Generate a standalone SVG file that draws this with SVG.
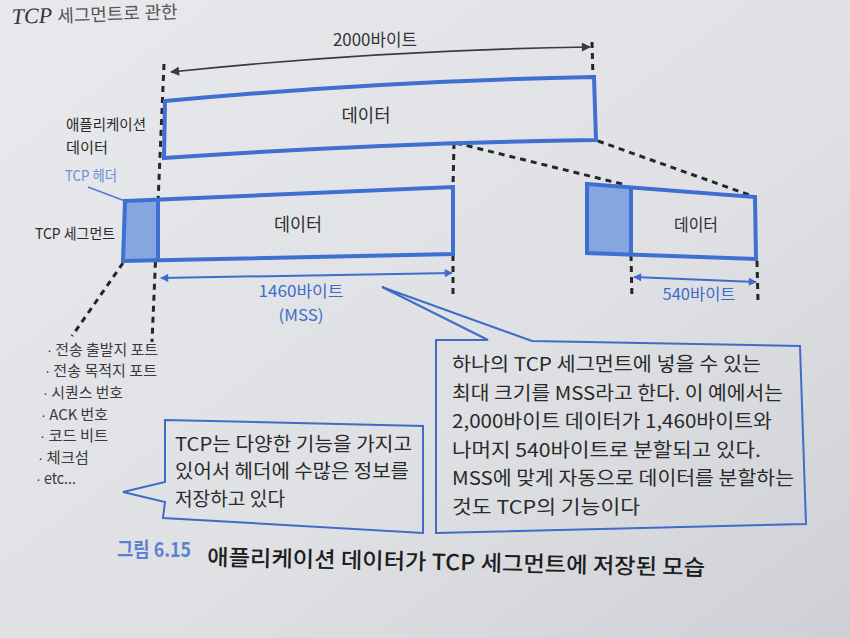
<svg xmlns="http://www.w3.org/2000/svg" width="850" height="638" viewBox="0 0 850 638">
<defs>
  <linearGradient id="paper" x1="0" y1="0" x2="1" y2="1">
    <stop offset="0" stop-color="#e8e9ec"/>
    <stop offset="0.6" stop-color="#dfe0e4"/>
    <stop offset="1" stop-color="#cfd0d5"/>
  </linearGradient>
  <marker id="arrBlue" viewBox="0 0 10 10" refX="9" refY="5" markerWidth="10" markerHeight="8" markerUnits="userSpaceOnUse" orient="auto-start-reverse">
    <path d="M0,0 L10,5 L0,10 Z" fill="#3d6ccc"/>
  </marker>
  <marker id="arrDark" viewBox="0 0 10 10" refX="9" refY="5" markerWidth="12" markerHeight="9" markerUnits="userSpaceOnUse" orient="auto-start-reverse">
    <path d="M0,0 L10,5 L0,10 Z" fill="#3a3a3a"/>
  </marker>
</defs>
<style>
  text { font-family: "Noto Sans CJK KR", "Noto Sans", sans-serif; }
  .box { fill: none; stroke: #3f6fd0; stroke-width: 4; stroke-linejoin: miter; }
  .hdr { fill: #86a6e0; stroke: none; }
  .dash { fill: none; stroke: #262626; stroke-width: 3; stroke-dasharray: 6 5; }
  .blue { fill: none; stroke: #3d6ccc; stroke-width: 2; }
  .dark { fill: none; stroke: #3a3a3a; stroke-width: 1.6; }
  .call { fill: none; stroke: #3f6cc8; stroke-width: 2; stroke-linejoin: miter; }
  .lbl { font-size: 15px; fill: #2a2a2a; }
  .data { font-size: 18px; fill: #2e2e2e; text-anchor: middle; }
  .bl { font-size: 16px; fill: #3f6cc8; text-anchor: middle; }
  .li { font-size: 15px; fill: #3a3a3a; }
  .dot { font-family: "Liberation Sans", sans-serif; }
  .ct { font-size: 19px; fill: #2a2a2a; }
</style>

<rect x="0" y="0" width="850" height="638" fill="url(#paper)"/>

<text x="12" y="24" transform="rotate(-2 12 24)" style="font-family:'Liberation Serif','Noto Sans CJK KR',serif;font-size:22px;font-style:italic;fill:#333">TCP <tspan style="font-style:normal;font-size:18px;fill:#555">세그먼트로 관한</tspan></text>

<g id="connectors">
  <path class="dash" d="M164,64 L152,342"/>
  <path class="dash" d="M592,42 L593,78"/>
  <path class="dash" d="M454,143 L453,187"/>
  <path class="dash" d="M453,255 L453,297"/>
  <path class="dash" d="M456,143 L626,185"/>
  <path class="dash" d="M598,141 L755,197"/>
  <path class="dash" d="M631,255 L632,299"/>
  <path class="dash" d="M757,261 L758,301"/>
  <path class="dash" d="M123,263 L72,336"/>
  <path d="M88,187 L125,201" stroke="#4f7bd0" stroke-width="1.5" fill="none"/>
  <path class="dark" d="M171,72 Q380,50 590,47" marker-start="url(#arrDark)" marker-end="url(#arrDark)"/>
  <path class="blue" d="M161,278 L452,273" marker-start="url(#arrBlue)" marker-end="url(#arrBlue)"/>
  <path class="blue" d="M634,277 L756,282" marker-start="url(#arrBlue)" marker-end="url(#arrBlue)"/>
</g>

<g id="label-2000">
  <text x="375" y="46" class="data" style="font-size:17px;fill:#333" textLength="84" lengthAdjust="spacingAndGlyphs">2000바이트</text>
</g>

<g id="app-data">
  <path class="box" d="M165,101 Q380,81 594,77 L596,140 Q380,143 164,158 Z"/>
  <text x="366" y="122" class="data" textLength="49" lengthAdjust="spacingAndGlyphs">데이터</text>
</g>
<g id="app-data-label">
  <text x="66" y="130" class="lbl" textLength="80" lengthAdjust="spacingAndGlyphs">애플리케이션</text>
  <text x="66" y="153" class="lbl" textLength="42" lengthAdjust="spacingAndGlyphs">데이터</text>
</g>

<g id="tcp-header-label">
  <text x="65" y="181" class="lbl" style="fill:#6a90d8" textLength="52" lengthAdjust="spacingAndGlyphs">TCP 헤더</text>
</g>
<g id="tcp-segment-label">
  <text x="35" y="239" class="lbl" textLength="80" lengthAdjust="spacingAndGlyphs">TCP 세그먼트</text>
</g>

<g id="segment-1">
  <path class="hdr" d="M125,201 L158,200 L158,260 L123,261 Z"/>
  <path class="box" d="M125,201 L453,187 L453,254 L123,261 Z"/>
  <path class="box" d="M158,200 L158,260"/>
  <text x="298" y="231" class="data" textLength="48" lengthAdjust="spacingAndGlyphs">데이터</text>
</g>

<g id="segment-2">
  <path class="hdr" d="M587,184 L631,186 L631,254 L587,253 Z"/>
  <path class="box" d="M587,184 L755,197 L756,259 L587,253 Z"/>
  <path class="box" d="M631,186 L631,255"/>
  <text x="696" y="231" class="data" style="font-size:17px" textLength="44" lengthAdjust="spacingAndGlyphs">데이터</text>
</g>

<g id="label-1460">
  <text x="301" y="297" class="bl" textLength="85" lengthAdjust="spacingAndGlyphs">1460바이트</text>
  <text x="301" y="321" class="bl" textLength="45" lengthAdjust="spacingAndGlyphs">(MSS)</text>
</g>
<g id="label-540">
  <text x="699" y="300" class="bl" textLength="73" lengthAdjust="spacingAndGlyphs">540바이트</text>
</g>

<g id="header-fields">
  <text x="47" y="355" class="li" textLength="111" lengthAdjust="spacingAndGlyphs"><tspan class="dot">·</tspan> 전송 출발지 포트</text>
  <text x="45" y="376" class="li" textLength="112" lengthAdjust="spacingAndGlyphs"><tspan class="dot">·</tspan> 전송 목적지 포트</text>
  <text x="43" y="398" class="li" textLength="80" lengthAdjust="spacingAndGlyphs"><tspan class="dot">·</tspan> 시퀀스 번호</text>
  <text x="41" y="420" class="li" textLength="67" lengthAdjust="spacingAndGlyphs"><tspan class="dot">·</tspan> ACK 번호</text>
  <text x="40" y="441" class="li" textLength="68" lengthAdjust="spacingAndGlyphs"><tspan class="dot">·</tspan> 코드 비트</text>
  <text x="38" y="463" class="li" textLength="51" lengthAdjust="spacingAndGlyphs"><tspan class="dot">·</tspan> 체크섬</text>
  <text x="36" y="484" class="li" textLength="40" lengthAdjust="spacingAndGlyphs"><tspan class="dot">·</tspan> etc...</text>
</g>

<g id="callout-header">
  <path class="call" d="M165,420 L423,426 L423,533 L163,518 L165,502 L123,492 L165,482 Z"/>
  <text x="175" y="451" class="ct" textLength="237" lengthAdjust="spacingAndGlyphs">TCP는 다양한 기능을 가지고</text>
  <text x="175" y="478" class="ct" textLength="234" lengthAdjust="spacingAndGlyphs">있어서 헤더에 수많은 정보를</text>
  <text x="175" y="506" class="ct" textLength="110" lengthAdjust="spacingAndGlyphs">저장하고 있다</text>
</g>

<g id="callout-mss">
  <path class="call" d="M436,340 L488,340 L382,287 L532,341 L800,346 L806,524 L436,533 Z"/>
  <text x="452" y="371" class="ct" textLength="309" lengthAdjust="spacingAndGlyphs">하나의 TCP 세그먼트에 넣을 수 있는</text>
  <text x="452" y="400" class="ct" textLength="331" lengthAdjust="spacingAndGlyphs">최대 크기를 MSS라고 한다. 이 예에서는</text>
  <text x="452" y="428" class="ct" textLength="320" lengthAdjust="spacingAndGlyphs">2,000바이트 데이터가 1,460바이트와</text>
  <text x="452" y="457" class="ct" textLength="309" lengthAdjust="spacingAndGlyphs">나머지 540바이트로 분할되고 있다.</text>
  <text x="452" y="485" class="ct" textLength="342" lengthAdjust="spacingAndGlyphs">MSS에 맞게 자동으로 데이터를 분할하는</text>
  <text x="452" y="514" class="ct" textLength="188" lengthAdjust="spacingAndGlyphs">것도 TCP의 기능이다</text>
</g>

<g id="caption">
  <text x="117" y="557" style="font-size:20px;font-weight:bold;fill:#5b82cf" textLength="74" lengthAdjust="spacingAndGlyphs">그림 6.15</text>
  <text x="207" y="565" transform="rotate(1.2 207 565)" style="font-size:22px;font-weight:500;fill:#1e1e1e" textLength="498" lengthAdjust="spacingAndGlyphs">애플리케이션 데이터가 TCP 세그먼트에 저장된 모습</text>
</g>
</svg>
